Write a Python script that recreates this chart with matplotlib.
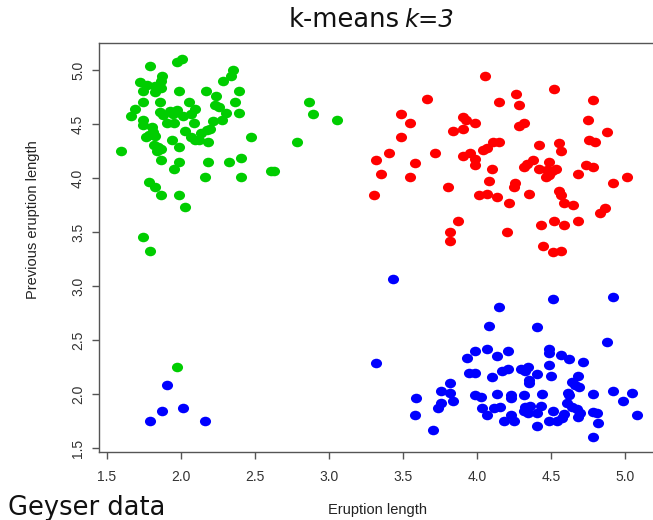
import matplotlib
matplotlib.use("Agg")
import matplotlib.pyplot as plt
from matplotlib.path import Path
from matplotlib.transforms import Affine2D

# cluster 1 (short eruptions, long previous)
green_x = [1.79, 1.975, 2.01, 2.353, 2.336, 2.286, 1.872, 1.863, 1.723, 1.772,
           1.826, 1.867, 1.741, 1.822, 1.989, 2.169, 2.39, 2.236, 1.741, 1.858,
           2.056, 2.367, 2.232, 2.255, 1.687, 2.093, 2.304, 2.39, 1.858, 1.876,
           1.926, 1.975, 1.948, 1.66, 2.011, 2.07, 1.741, 2.277, 2.218, 1.907,
           1.953, 2.088, 1.741, 1.804, 2.196, 2.174, 2.133, 2.025, 1.813, 1.786,
           1.764, 1.826, 2.066, 2.093, 2.124, 2.471, 1.939, 2.182, 2.786, 1.818,
           1.845, 1.863, 1.836, 1.989, 1.593, 1.863, 1.989, 2.182, 2.322, 2.403,
           1.953, 2.61, 2.628, 2.16, 2.403, 1.786, 1.826, 1.863, 1.989, 2.025,
           1.741, 1.791, 2.867, 2.89, 3.052, 1.975]
green_y = [5.04, 5.07, 5.10, 5.00, 4.944, 4.90, 4.944, 4.90, 4.89, 4.858,
           4.852, 4.833, 4.803, 4.796, 4.803, 4.803, 4.803, 4.759, 4.704, 4.704,
           4.704, 4.704, 4.673, 4.655, 4.636, 4.636, 4.605, 4.605, 4.611, 4.581,
           4.618, 4.63, 4.593, 4.574, 4.574, 4.593, 4.537, 4.537, 4.531, 4.506,
           4.506, 4.506, 4.488, 4.469, 4.456, 4.444, 4.419, 4.438, 4.426, 4.401,
           4.377, 4.389, 4.377, 4.352, 4.352, 4.377, 4.352, 4.333, 4.333, 4.308,
           4.284, 4.266, 4.247, 4.284, 4.247, 4.167, 4.148, 4.148, 4.148, 4.185,
           4.081, 4.062, 4.062, 4.006, 4.006, 3.963, 3.919, 3.84, 3.84, 3.734,
           3.451, 3.327, 4.704, 4.593, 4.537, 2.253]

# cluster 2 (long eruptions, long previous)
red_x = [4.052, 3.664, 4.151, 3.484, 3.547, 3.903, 3.926, 3.984, 3.836, 3.903,
         3.484, 3.403, 3.718, 3.318, 3.583, 3.349, 3.547, 3.304, 3.804, 3.903,
         3.953, 3.984, 3.984, 4.101, 4.079, 4.016, 4.066, 4.133, 4.043, 4.066,
         4.11, 4.147, 3.872, 3.818, 3.818, 4.214, 4.205, 4.52, 4.264, 4.286,
         4.786, 4.75, 4.88, 4.282, 4.314, 4.417, 4.552, 4.565, 4.759, 4.8,
         4.314, 4.336, 4.381, 4.417, 4.484, 4.471, 4.484, 4.466, 4.507, 4.534,
         4.736, 4.786, 4.682, 5.016, 4.917, 4.259, 4.25, 4.349, 4.552, 4.57,
         4.588, 4.651, 4.831, 4.867, 4.682, 4.434, 4.52, 4.588, 4.448, 4.516,
         4.57]
red_y = [4.944, 4.735, 4.704, 4.593, 4.506, 4.562, 4.537, 4.512, 4.438, 4.451,
         4.377, 4.234, 4.234, 4.167, 4.136, 4.037, 4.006, 3.84, 3.92, 4.204,
         4.234, 4.173, 4.118, 4.081, 3.969, 3.84, 3.852, 3.821, 4.259, 4.278,
         4.333, 4.333, 3.599, 3.5, 3.414, 3.766, 3.5, 4.821, 4.778, 4.673,
         4.722, 4.537, 4.426, 4.481, 4.506, 4.303, 4.327, 4.247, 4.352, 4.333,
         4.105, 4.13, 4.167, 4.081, 4.148, 4.074, 4.031, 4.006, 4.062, 4.081,
         4.118, 4.099, 4.037, 4.006, 3.951, 3.951, 3.92, 3.852, 3.883, 3.84,
         3.766, 3.753, 3.679, 3.722, 3.599, 3.568, 3.599, 3.568, 3.37, 3.315,
         3.327]

# cluster 3 (short previous)
blue_x = [1.907, 1.872, 2.011, 1.79, 2.16, 3.435, 3.318, 4.151, 4.083, 3.934,
          3.988, 4.07, 4.137, 4.209, 3.948, 3.988, 4.101, 4.169, 4.209, 3.818,
          3.755, 3.818, 3.588, 3.84, 3.755, 3.736, 3.583, 3.705, 3.984, 4.025,
          4.137, 4.232, 4.232, 4.034, 4.066, 4.115, 4.155, 4.182, 4.516, 4.916,
          4.403, 4.88, 4.484, 4.484, 4.57, 4.62, 4.718, 4.484, 4.299, 4.345,
          4.326, 4.403, 4.498, 4.349, 4.349, 4.682, 4.642, 4.664, 4.691, 4.314,
          4.439, 4.615, 4.62, 4.786, 4.917, 5.047, 4.984, 5.083, 4.322, 4.358,
          4.314, 4.341, 4.434, 4.516, 4.606, 4.642, 4.678, 4.696, 4.682, 4.588,
          4.574, 4.403, 4.232, 4.25, 4.403, 4.484, 4.543, 4.782, 4.813, 4.818,
          4.786]
blue_y = [2.083, 1.845, 1.87, 1.747, 1.747, 3.068, 2.284, 2.803, 2.63, 2.333,
          2.4, 2.42, 2.352, 2.4, 2.197, 2.197, 2.155, 2.216, 2.234, 2.099,
          2.03, 2.012, 1.963, 1.932, 1.914, 1.87, 1.803, 1.667, 1.988, 1.969,
          2.0, 1.99, 1.963, 1.87, 1.809, 1.87, 1.883, 1.747, 2.882, 2.901,
          2.618, 2.481, 2.42, 2.383, 2.364, 2.321, 2.296, 2.266, 2.234, 2.253,
          2.216, 2.185, 2.167, 2.13, 2.099, 2.167, 2.111, 2.086, 2.068, 1.988,
          2.0, 2.012, 1.988, 2.0, 2.03, 2.012, 1.932, 1.803, 1.883, 1.889,
          1.84, 1.827, 1.889, 1.845, 1.914, 1.877, 1.864, 1.821, 1.79, 1.815,
          1.778, 1.821, 1.809, 1.747, 1.704, 1.747, 1.747, 1.833, 1.827, 1.734,
          1.605]

x_ticks = [1.5, 2.0, 2.5, 3.0, 3.5, 4.0, 4.5, 5.0]
y_ticks = [1.5, 2.0, 2.5, 3.0, 3.5, 4.0, 4.5, 5.0]

W, H = 653, 520
fig = plt.figure(figsize=(W / 100, H / 100), dpi=100)
fig.patch.set_facecolor("white")

ax = fig.add_axes([99 / W, 68 / H, 561 / W, 409 / H])
ax.set_xlim(1.446, 5.236)
ax.set_ylim(1.463, 5.25)

# slightly flattened round dot
oval = Path.unit_circle().transformed(Affine2D().scale(1.0, 0.86))
dot = dict(s=64, marker=oval, linewidths=0, zorder=3)
ax.scatter(green_x, green_y, color="#00cd00", **dot)
ax.scatter(red_x, red_y, color="#ff0000", **dot)
ax.scatter(blue_x, blue_y, color="#0000ff", **dot)

for sp in ax.spines.values():
    sp.set_color("#555555")
    sp.set_linewidth(1.0)

ax.set_xticks(x_ticks)
ax.set_yticks(y_ticks)
ax.set_xticklabels(["%.1f" % v for v in x_ticks])
ax.set_yticklabels(["%.1f" % v for v in y_ticks], rotation=90, va="center")
ax.tick_params(direction="out", length=5, width=1, color="#555555",
               labelcolor="#333333", labelsize=10)
ax.tick_params(axis="x", pad=8)
ax.tick_params(axis="y", pad=5)
for lab in ax.get_xticklabels() + ax.get_yticklabels():
    lab.set_family("Liberation Sans")

fig.text(378 / W, 1 - 510 / H, "Eruption length", ha="center", va="center",
         family="Liberation Sans", fontsize=10.5, color="#222222")
fig.text(33 / W, 1 - 220 / H, "Previous eruption length", ha="center",
         va="center", rotation=90, family="Liberation Sans", fontsize=10.5,
         color="#222222")

# title: plain "k-means" followed by italic "k=3"
fig.text(289 / W, 1 - 27 / H, "k-means", ha="left", va="baseline",
         family="DejaVu Sans", fontsize=18.5, color="#111111")
fig.text(404 / W, 1 - 27 / H, "k=3", ha="left", va="baseline",
         family="DejaVu Sans", style="italic", fontsize=17.5, color="#111111")

fig.text(8 / W, 1 - 515 / H, "Geyser data", ha="left", va="baseline",
         family="DejaVu Sans", fontsize=18.5, color="#111111")

fig.savefig("out.png", dpi=100)
